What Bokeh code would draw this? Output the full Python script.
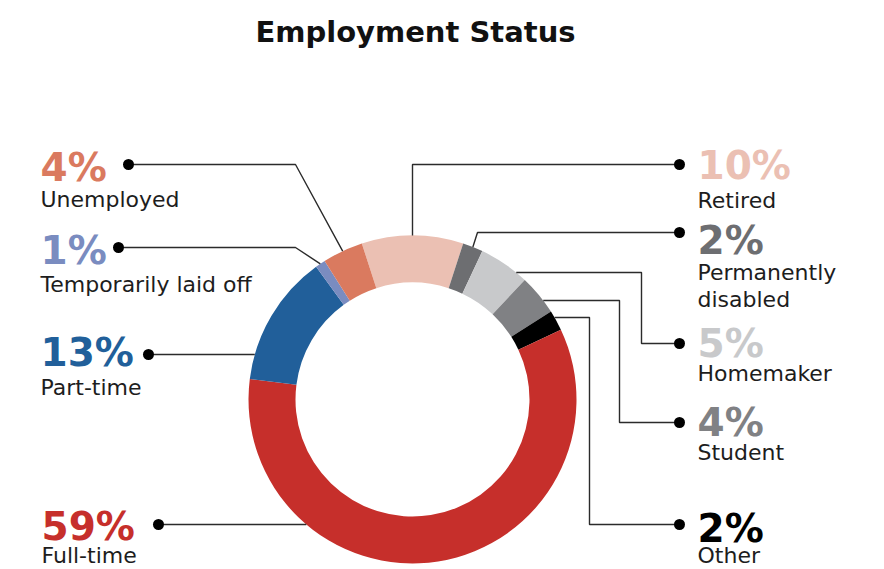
import math
from bokeh.plotting import figure
from bokeh.models import Range1d, ColumnDataSource
from bokeh.core.properties import value
from bokeh.embed import file_html
from bokeh.resources import INLINE

# ---------------- data ----------------
title_text = "Employment Status"
categories = ["Retired", "Permanently\ndisabled", "Homemaker", "Student", "Other",
              "Full-time", "Part-time", "Temporarily laid off", "Unemployed"]
shares = [10, 2, 5, 4, 2, 59, 13, 1, 4]
colors = ["#EBC0B3", "#6D6E71", "#C8C9CB", "#808184", "#000000",
          "#C62F2B", "#215F9A", "#7A8CC0", "#DA7A5F"]

# ---------------- layout (picture pixels) ----------------
W, H = 868, 569
CX, CY = 412, 399          # ring centre in picture pixels
R_OUT, R_IN = 164, 117
FONT = "DejaVu Sans"
PCT_SIZE, NAME_SIZE, TITLE_SIZE = 39, 22, 29
BASE_FIX = 0.26            # baseline correction (fraction of font size)

# label x, percent baseline, name baseline, dot, bend points, anchor on ring
label_layout = [
    dict(x=697, pct=175, name=206, dot=(679, 164), bends=[(412, 164)], anchor="mid"),
    dict(x=697, pct=250, name=278, dot=(679, 232), bends=[(477, 232)], anchor="mid"),
    dict(x=697, pct=353, name=379, dot=(679, 343), bends=[(641, 343), (641, 272)], anchor=272),
    dict(x=697, pct=432, name=458, dot=(679, 422), bends=[(619, 422), (619, 300)], anchor=300),
    dict(x=697, pct=538, name=561, dot=(679, 524), bends=[(589, 524), (589, 317)], anchor=317),
    dict(x=41, pct=536, name=561, dot=(158, 524), bends=[], anchor=524),
    dict(x=40, pct=362, name=393, dot=(148, 354), bends=[], anchor=354),
    dict(x=40, pct=260, name=290, dot=(118, 247), bends=[(295, 247)], anchor="mid"),
    dict(x=40, pct=177, name=205, dot=(128, 164), bends=[(295, 164)], anchor="mid"),
]


def dx(px):
    return px - CX


def dy(py):
    return CY - py


def ty(py, size):
    # text baseline position with correction
    return CY - (py - BASE_FIX * size)


p = figure(width=W, height=H, output_backend="svg", toolbar_location=None,
           x_range=Range1d(-CX, W - CX), y_range=Range1d(CY - H, CY),
           min_border=0, outline_line_color=None)
p.axis.visible = False
p.grid.visible = False
p.background_fill_color = "white"
p.border_fill_color = "white"

# ---------------- ring ----------------
total = float(sum(shares))
start_cw = -shares[0] / total * 360 / 2  # clockwise degrees from top, Retired centred at top
starts, ends, mids = [], [], []
acc = start_cw
for s in shares:
    a0 = acc
    a1 = acc + s / total * 360
    starts.append(math.radians(90 - a1))
    ends.append(math.radians(90 - a0))
    mids.append((a0 + a1) / 2)
    acc = a1

ring = ColumnDataSource(dict(x=[0] * len(shares), y=[0] * len(shares),
                             start=starts, end=ends, color=colors))
p.annular_wedge(x="x", y="y", inner_radius=R_IN, outer_radius=R_OUT,
                start_angle="start", end_angle="end", direction="anticlock",
                fill_color="color", line_color=None, source=ring)

# ---------------- leader lines ----------------
xs, ys, dot_x, dot_y = [], [], [], []
for i, lay in enumerate(label_layout):
    pts = [(dx(lay["dot"][0]), dy(lay["dot"][1]))]
    pts += [(dx(bx), dy(by)) for bx, by in lay["bends"]]
    if lay["anchor"] == "mid":
        th = math.radians(mids[i])
        pts.append((R_OUT * math.sin(th), R_OUT * math.cos(th)))
    else:
        yy = dy(lay["anchor"])
        side = 1 if lay["dot"][0] > CX else -1
        pts.append((side * math.sqrt(R_OUT ** 2 - yy ** 2), yy))
    xs.append([q[0] for q in pts])
    ys.append([q[1] for q in pts])
    dot_x.append(pts[0][0])
    dot_y.append(pts[0][1])

p.multi_line(xs=xs, ys=ys, line_color="#2b2b2b", line_width=1.4)
p.scatter(x=dot_x, y=dot_y, size=11, marker="circle", fill_color="#000000", line_color=None)

# ---------------- labels ----------------
pct_src = ColumnDataSource(dict(
    x=[dx(l["x"]) for l in label_layout],
    y=[ty(l["pct"], PCT_SIZE) for l in label_layout],
    t=[f"{s}%" for s in shares],
    c=colors))
p.text(x="x", y="y", text="t", text_color="c", source=pct_src,
       text_font=value(FONT), text_font_style="bold", text_font_size=f"{PCT_SIZE}px",
       text_align="left", text_baseline="alphabetic")

nx, ny, nt = [], [], []
for cat, lay in zip(categories, label_layout):
    for k, line in enumerate(cat.split("\n")):
        nx.append(dx(lay["x"]))
        ny.append(ty(lay["name"] + 27 * k, NAME_SIZE))
        nt.append(line)
p.text(x=nx, y=ny, text=nt, text_color="#1d1d1d",
       text_font=value(FONT), text_font_size=f"{NAME_SIZE}px",
       text_align="left", text_baseline="alphabetic")

p.text(x=[dx(415)], y=[ty(39, TITLE_SIZE)], text=[title_text], text_color="#111111",
       text_font=value(FONT), text_font_style="bold", text_font_size=f"{TITLE_SIZE}px",
       text_align="center", text_baseline="alphabetic")

open("out.html", "w").write(file_html(p, INLINE))
